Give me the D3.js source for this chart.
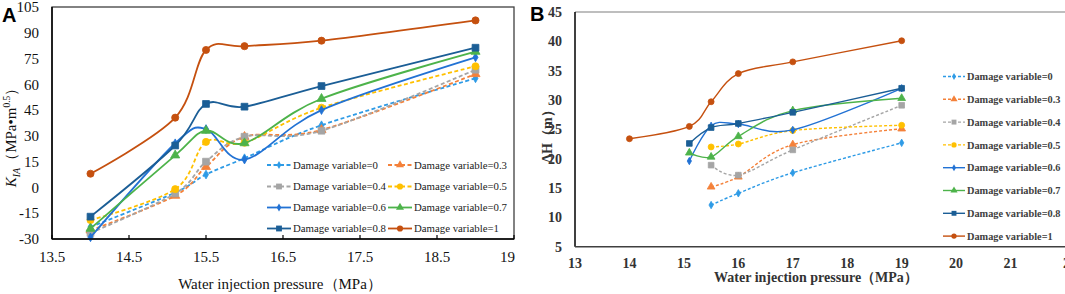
<!DOCTYPE html>
<html><head><meta charset="utf-8">
<script src="https://cdn.jsdelivr.net/npm/d3@7"></script>
<style>
html,body{margin:0;padding:0;background:#fff;overflow:hidden;}
svg{display:block;}
</style></head>
<body>
<svg id="chart" width="1065" height="294"></svg>
<script>
// ---------- DATA ----------
const seriesNames = ["Damage variable=0","Damage variable=0.3","Damage variable=0.4","Damage variable=0.5",
                     "Damage variable=0.6","Damage variable=0.7","Damage variable=0.8","Damage variable=1"];
const seriesColors = ["#2E9BE6","#F4813A","#A5A5A5","#FFC000","#2272D4","#4DB34A","#1B5E96","#C5500F"];
const seriesDashed = [true,true,true,true,false,false,false,false];
const seriesMarkers = ["diamond","triangle","square","circle","diamond","triangle","square","circle"];

// Panel A: K_IA vs water injection pressure
const aPressure = [14, 15.1, 15.5, 16, 17, 19];
const aK0  = [-23, -3, 7.5, 17, 36.2, 63.5];
const aK03 = [-25, -4.8, 12, 29.5, 33.5, 66];
const aK04 = [-26.5, -3.5, 15, 29.5, 33, 68.5];
const aK05 = [-19, -1, 26.5, 26, 46.4, 70.5];
const aK06 = [-29, 25.7, 34, 16.2, 45, 75.7];
const aK07 = [-24, 18.7, 33, 25.8, 51.6, 79];
const aK08 = [-17, 24.4, 48.6, 47, 59, 81.3];
const aK1  = [8, 40.6, 80, 82.2, 85.4, 97.2];
const aValues = [aK0, aK03, aK04, aK05, aK06, aK07, aK08, aK1];
const aXTicks = [13.5, 14.5, 15.5, 16.5, 17.5, 18.5, 19.5];
const aXTickLabels = ["13.5","14.5","15.5","16.5","17.5","18.5","19"];
const aYTicks = [-30, -15, 0, 15, 30, 45, 60, 75, 90, 105];

// Panel B: ΔH vs water injection pressure
const bPressure4 = [15.5, 16, 17, 19];
const bPressure5 = [15.1, 15.5, 16, 17, 19];
const bPressure6 = [14, 15.1, 15.5, 16, 17, 19];
const bH0  = [12.1, 14.1, 17.6, 22.7];
const bH03 = [15.2, 16.9, 22.4, 25.1];
const bH04 = [18.9, 17.2, 21.5, 29.1];
const bH05 = [22, 22.5, 24.8, 25.7];
const bH06 = [19.6, 25.6, 25.9, 24.9, 32];
const bH07 = [21, 20.3, 23.8, 28.2, 30.3];
const bH08 = [22.6, 25.3, 26, 27.9, 32];
const bH1  = [23.4, 25.5, 29.7, 34.5, 36.5, 40.1];
const bValues = [bH0, bH03, bH04, bH05, bH06, bH07, bH08, bH1];
const bXs = [bPressure4, bPressure4, bPressure4, bPressure4, bPressure5, bPressure5, bPressure5, bPressure6];
const bXTicks = [13, 14, 15, 16, 17, 18, 19, 20, 21, 22];
const bYTicks = [5, 10, 15, 20, 25, 30, 35, 40, 45];

// ---------- DRAW ----------
const svg = d3.select("#chart");
const serif = "Liberation Serif";
const sans = "Liberation Sans";
const symType = {circle: d3.symbolCircle, square: d3.symbolSquare, triangle: d3.symbolTriangle, diamond: d3.symbolDiamond};

function txt(sel, size, weight, color) {
  return sel.attr("font-family", serif).attr("font-size", size).attr("font-weight", weight || "normal").attr("fill", color || "#111");
}

function drawPanel(opt) {
  const g = svg.append("g");
  const x = d3.scaleLinear().domain(opt.xDomain).range([opt.left, opt.right]);
  const y = d3.scaleLinear().domain(opt.yDomain).range([opt.bottom, opt.top]);
  const line = d3.line().x(d => x(d[0])).y(d => y(d[1])).curve(d3.curveCardinal.tension(0));

  if (opt.frame) {
    g.append("rect").attr("x", opt.left).attr("y", opt.top)
      .attr("width", opt.right - opt.left).attr("height", opt.bottom - opt.top)
      .attr("fill", "none").attr("stroke", "#404040").attr("stroke-width", 1.3);
  } else {
    g.append("line").attr("x1", opt.left).attr("x2", opt.right).attr("y1", opt.top).attr("y2", opt.top)
      .attr("stroke", "#7f7f7f").attr("stroke-width", 1.2);
  }

  opt.values.forEach((vals, i) => {
    const xs = opt.xs[i];
    const pts = vals.map((v, j) => [xs[j], v]);
    g.append("path").datum(pts).attr("d", line)
      .attr("fill", "none").attr("stroke", seriesColors[i]).attr("stroke-width", opt.lw)
      .attr("stroke-dasharray", seriesDashed[i] ? opt.dash : null);
    const s = d3.symbol().type(symType[seriesMarkers[i]]).size(opt.msize[seriesMarkers[i]]);
    g.selectAll(null).data(pts).enter().append("path")
      .attr("d", s).attr("transform", d => `translate(${x(d[0])},${y(d[1])})`)
      .attr("fill", seriesColors[i]).attr("stroke", seriesColors[i]).attr("stroke-width", 0.8);
  });

  g.append("line").attr("x1", opt.left).attr("x2", opt.left).attr("y1", opt.top).attr("y2", opt.bottom)
    .attr("stroke", "#000").attr("stroke-width", 1.5);
  g.append("line").attr("x1", opt.left).attr("x2", opt.right).attr("y1", opt.bottom).attr("y2", opt.bottom)
    .attr("stroke", opt.xAxisColor).attr("stroke-width", 1.5);

  opt.xTicks.forEach((t, i) => {
    if (opt.xTickLen) {
      g.append("line").attr("x1", x(t)).attr("x2", x(t)).attr("y1", opt.bottom).attr("y2", opt.bottom - opt.xTickLen)
        .attr("stroke", "#000").attr("stroke-width", 1.2);
    }
    const lab = opt.xTickLabels ? opt.xTickLabels[i] : String(t);
    const last = i === opt.xTicks.length - 1 && opt.lastEnd;
    txt(g.append("text"), opt.fs, opt.weight, opt.textColor)
      .attr("x", last ? x(t) + 1 : x(t)).attr("y", opt.xLabelY)
      .attr("text-anchor", last ? "end" : "middle").text(lab);
  });
  opt.yTicks.forEach(t => {
    txt(g.append("text"), opt.fs, opt.weight, opt.textColor)
      .attr("x", opt.left - opt.yLabelGap).attr("y", y(t)).attr("dy", "0.35em")
      .attr("text-anchor", "end").text(String(t));
  });
  return {g, x, y};
}

// Panel A
const A = drawPanel({
  left: 52, right: 514, top: 7, bottom: 239,
  xDomain: [13.5, 19.5], yDomain: [-30, 105],
  values: aValues, xs: aValues.map(() => aPressure),
  lw: 1.8, dash: "4,2.5",
  msize: {circle: 40, square: 46, triangle: 36, diamond: 22},
  frame: true, xAxisColor: "#000",
  xTicks: aXTicks, xTickLabels: aXTickLabels, xTickLen: 4, lastEnd: true,
  yTicks: aYTicks, xLabelY: 262, yLabelGap: 13, fs: 15, weight: "normal", textColor: "#111"
});

// Panel A legend
(function(){
  const g = svg.append("g");
  const cols = [267, 388], rows = [165, 186.5, 207.5, 228.5];
  seriesNames.forEach((nm, i) => {
    const cx = cols[i % 2], cy = rows[Math.floor(i / 2)];
    g.append("line").attr("x1", cx).attr("x2", cx + 24).attr("y1", cy).attr("y2", cy)
      .attr("stroke", seriesColors[i]).attr("stroke-width", 1.8)
      .attr("stroke-dasharray", seriesDashed[i] ? "4,2.5" : null);
    const s = d3.symbol().type(symType[seriesMarkers[i]]).size({circle: 30, square: 34, triangle: 28, diamond: 18}[seriesMarkers[i]]);
    g.append("path").attr("d", s).attr("transform", `translate(${cx + 12},${cy})`).attr("fill", seriesColors[i]);
    txt(g.append("text"), 10.8, "normal", "#222")
      .attr("x", cx + 26).attr("y", cy).attr("dy", "0.35em").text(nm);
  });
})();

// Panel A titles
txt(svg.append("text"), 15, "normal", "#111")
  .attr("x", 280).attr("y", 289).attr("text-anchor", "middle")
  .text("Water injection pressure（MPa）");
(function(){
  const t = txt(svg.append("text"), 15, "normal", "#111")
    .attr("transform", "translate(16,134) rotate(-90)").attr("text-anchor", "middle");
  t.append("tspan").attr("font-style", "italic").text("K");
  t.append("tspan").attr("dy", 4).attr("font-size", 10).attr("font-style", "italic").text("IA");
  t.append("tspan").attr("dy", -4).text("（MPa•m");
  t.append("tspan").attr("dy", -6).attr("font-size", 9.5).text("0.5");
  t.append("tspan").attr("dy", 6).text("）");
})();
svg.append("text").attr("x", 2).attr("y", 22)
  .attr("font-family", sans).attr("font-size", 20).attr("font-weight", "bold")
  .attr("fill", "#000").text("A");

// Panel B
const B = drawPanel({
  left: 575, right: 1065, top: 12, bottom: 246.7,
  xDomain: [13, 22], yDomain: [5, 45],
  values: bValues, xs: bXs,
  lw: 1.4, dash: "3,2",
  msize: {circle: 28, square: 32, triangle: 26, diamond: 16},
  frame: false, xAxisColor: "#404040",
  xTicks: bXTicks, xTickLen: 0, lastEnd: false,
  yTicks: bYTicks, xLabelY: 268, yLabelGap: 13, fs: 14, weight: "bold", textColor: "#333"
});
B.g.selectAll("text").filter(function(){ return d3.select(this).text() === "22"; }).attr("x", 1070);

// Panel B legend
(function(){
  const g = svg.append("g");
  const lx = 943;
  seriesNames.forEach((nm, i) => {
    const cy = 76.5 + i * 22.8;
    g.append("line").attr("x1", lx).attr("x2", lx + 22).attr("y1", cy).attr("y2", cy)
      .attr("stroke", seriesColors[i]).attr("stroke-width", 1.4)
      .attr("stroke-dasharray", seriesDashed[i] ? "3,2" : null);
    const s = d3.symbol().type(symType[seriesMarkers[i]]).size({circle: 22, square: 24, triangle: 22, diamond: 14}[seriesMarkers[i]]);
    g.append("path").attr("d", s).attr("transform", `translate(${lx + 11},${cy})`).attr("fill", seriesColors[i]);
    txt(g.append("text"), 10.3, "bold", "#404040")
      .attr("x", lx + 24).attr("y", cy).attr("dy", "0.35em").text(nm);
  });
})();

// Panel B titles
txt(svg.append("text"), 14, "bold", "#333")
  .attr("x", 816).attr("y", 282).attr("text-anchor", "middle")
  .text("Water injection pressure（MPa）");
txt(svg.append("text"), 14, "bold", "#333")
  .attr("transform", "translate(547,133) rotate(-90)").attr("dy", "0.35em").attr("text-anchor", "middle")
  .text("ΔH（m）");
svg.append("text").attr("x", 530).attr("y", 21)
  .attr("font-family", sans).attr("font-size", 20).attr("font-weight", "bold")
  .attr("fill", "#000").text("B");
</script>
</body></html>
